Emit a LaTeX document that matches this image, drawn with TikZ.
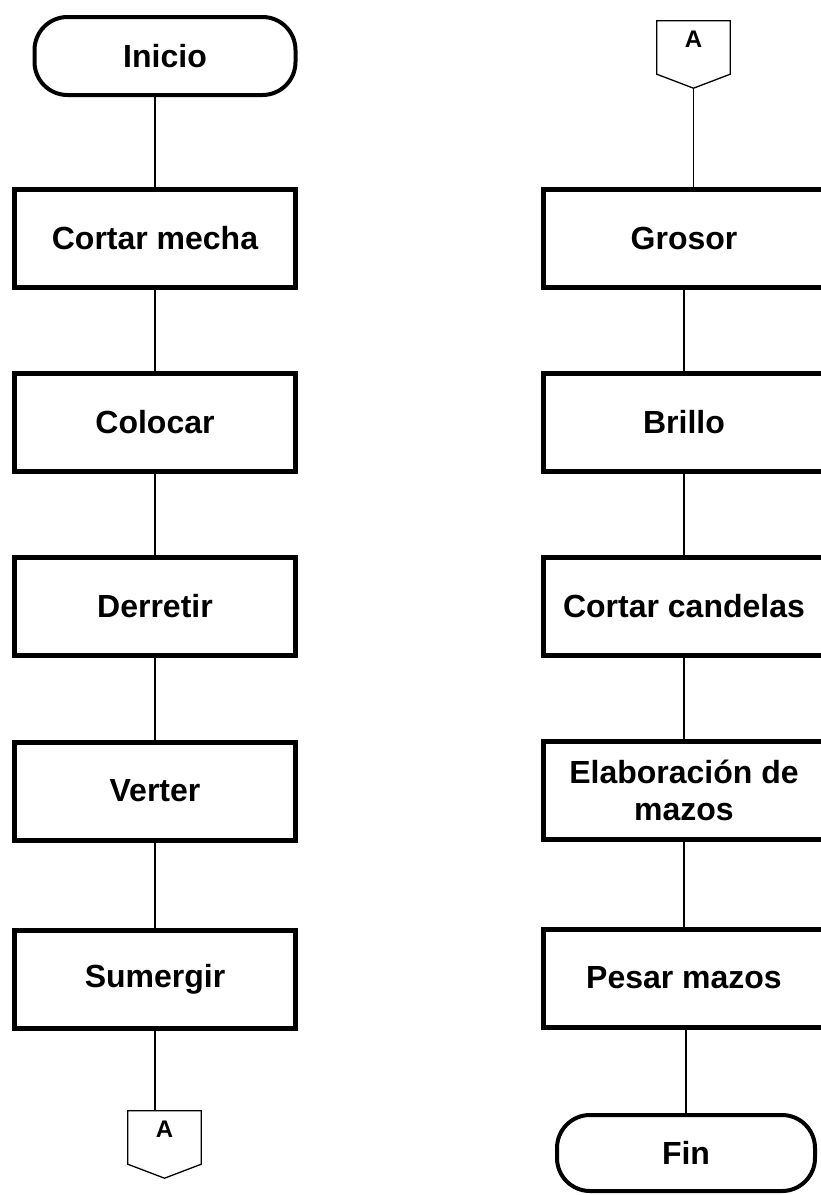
\documentclass[tikz,border=0pt]{standalone}
\usepackage{fontspec}
\setmainfont{Liberation Sans}
\usetikzlibrary{calc, positioning}
\tikzset{
    boxnode/.style = {draw, rectangle, line width=5pt, minimum width=281pt, minimum height=98pt,
      inner sep=0pt, node distance=0em, font=\fontsize{32}{37}\selectfont\bfseries},
    termnode/.style = {draw, rectangle, rounded corners=33pt, line width=4pt, minimum width=261pt,
      minimum height=78pt, node distance=0em, font=\fontsize{32}{37}\selectfont\bfseries},
    pagenode/.style = {rectangle, minimum width=73pt, minimum height=53pt, inner sep=0pt,
      text depth=16pt, font=\fontsize{24}{28}\selectfont\bfseries},
    connect/.style = {black, line width=1.3pt},
    every text node part/.style={align=center}
}

\begin{document}
\begin{tikzpicture}[x=1pt, y=-1pt]
\useasboundingbox (0,0) rectangle (820,1195);
% left column
\node [name=inicio, termnode] at (165,56) {Inicio};
\node [name=cortar, boxnode] at (155,238) {Cortar mecha};
\node [name=colocar, boxnode, below of = cortar, yshift=-184pt] {Colocar};
\node [name=derretir, boxnode, below of = colocar, yshift=-184pt] {Derretir};
\node [name=verter, boxnode, below of = derretir, yshift=-185pt] {Verter};
\node [name=sumergir, boxnode, below of = verter, yshift=-188pt] {Sumergir};
\node [name=aleft, pagenode] at (164.5,1137.5) {A};
\coordinate (alefttip) at ($(aleft.south)+(0,14)$);
% right column
\node [name=aright, pagenode] at (693.5,47.5) {A};
\coordinate (arighttip) at ($(aright.south)+(0,14)$);
\node [name=grosor, boxnode] at (684,238) {Grosor};
\node [name=brillo, boxnode, below of = grosor, yshift=-184pt] {Brillo};
\node [name=candelas, boxnode, below of = brillo, yshift=-184pt] {Cortar candelas};
\node [name=mazos, boxnode, below of = candelas, yshift=-184pt] {Elaboración de\\mazos};
\node [name=pesar, boxnode, below of = mazos, yshift=-188pt] {Pesar mazos};
\node [name=fin, termnode, minimum width=258pt, minimum height=76pt] at (686,1153) {Fin};

\draw [connect] (aleft.north west) -- (aleft.south west) -- (alefttip) -- (aleft.south east) -- (aleft.north east) -- cycle;
\draw [connect] (aright.north west) -- (aright.south west) -- (arighttip) -- (aright.south east) -- (aright.north east) -- cycle;

\draw [connect] (cortar.north) -- (cortar.north |- inicio.south);
\draw [connect] (cortar) -- (colocar);
\draw [connect] (colocar) -- (derretir);
\draw [connect] (derretir) -- (verter);
\draw [connect] (verter) -- (sumergir);
\draw [connect] (sumergir.south) -- (sumergir.south |- aleft.north);
\draw [connect] (arighttip) -- (arighttip |- grosor.north);
\draw [connect] (grosor) -- (brillo);
\draw [connect] (brillo) -- (candelas);
\draw [connect] (candelas) -- (mazos);
\draw [connect] (mazos) -- (pesar);
\draw [connect] (fin.north) -- (fin.north |- pesar.south);
\end{tikzpicture}
\end{document}
